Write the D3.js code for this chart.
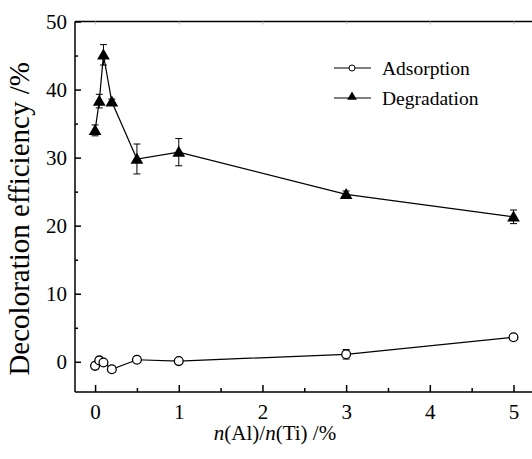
<!DOCTYPE html>
<html>
<head>
<meta charset="utf-8">
<script src="https://cdn.jsdelivr.net/npm/d3@7"></script>
<style>
  body { margin: 0; background: #fff; }
  .tick text { font-family: 'Times New Roman', 'Liberation Serif', serif; font-size: 21px; }
</style>
</head>
<body>
<div id="chart"></div>
<script>
// data
var ratio = [0, 0.05, 0.1, 0.2, 0.5, 1, 3, 5];
var adsorption = [-0.6, 0.2, -0.1, -1.1, 0.3, 0.1, 1.1, 3.6];
var adsorptionErr = [0.4, 0.4, 0.4, 0.4, 0.4, 0.3, 0.7, 0.4];
var degradation = [34.0, 38.3, 45.1, 38.2, 29.8, 30.8, 24.6, 21.3];
var degradationErr = [0.8, 1.0, 1.5, 0.4, 2.2, 2.0, 0.5, 1.0];
var xTicks = [0, 1, 2, 3, 4, 5];
var yTicks = [0, 10, 20, 30, 40, 50];
var seriesNames = ["Adsorption", "Degradation"];

var serif = "'Times New Roman', 'Liberation Serif', 'DejaVu Serif', serif";

var W = 532, H = 459;
var margin = { top: 21.5, right: -2, bottom: 67, left: 75 };
var width = W - margin.left - margin.right,
    height = H - margin.top - margin.bottom;

var svg = d3.select("#chart")
    .append("svg")
    .attr("width", W)
    .attr("height", H)
    .attr("font-family", serif);
var g = svg.append("g")
    .attr("transform", "translate(" + margin.left + "," + margin.top + ")");

var x = d3.scaleLinear().domain([-0.24, 5.245]).range([0, width]);
var y = d3.scaleLinear().domain([-4.44, 50]).range([height, 0]);

// frame
g.append("line").attr("x1", 0).attr("x2", width).attr("y1", 0).attr("y2", 0)
    .attr("stroke", "#000").attr("stroke-width", 1.5);
g.append("line").attr("x1", 0).attr("x2", width).attr("y1", height).attr("y2", height)
    .attr("stroke", "#000").attr("stroke-width", 1.5);
g.append("line").attr("x1", 0).attr("x2", 0).attr("y1", 0).attr("y2", height)
    .attr("stroke", "#000").attr("stroke-width", 1.5);

// x axis (ticks pointing in)
var xAxis = g.append("g")
    .attr("transform", "translate(0," + height + ")")
    .call(d3.axisBottom(x).tickValues(xTicks).tickSize(-7).tickPadding(12).tickFormat(d3.format("d")));
xAxis.attr("font-family", null).attr("font-size", null);
xAxis.select(".domain").remove();
xAxis.selectAll("line").attr("stroke-width", 1.5);
g.append("g")
    .attr("transform", "translate(0," + height + ")")
    .call(d3.axisBottom(x).tickValues([0.5, 1.5, 2.5, 3.5, 4.5]).tickSize(-4).tickFormat(""))
    .call(function (s) { s.select(".domain").remove(); s.selectAll("line").attr("stroke-width", 1.5); });
// top mirror ticks (faint)
g.append("g")
    .call(d3.axisTop(x).tickValues(xTicks).tickSize(-3).tickFormat(""))
    .call(function (s) { s.select(".domain").remove(); s.selectAll("line").attr("stroke", "#bbb"); });

// y axis (ticks pointing in)
var yAxis = g.append("g")
    .call(d3.axisLeft(y).tickValues(yTicks).tickSize(-6).tickPadding(8));
yAxis.attr("font-family", null).attr("font-size", null);
yAxis.select(".domain").remove();
yAxis.selectAll("line").attr("stroke-width", 1.5);
g.append("g")
    .call(d3.axisLeft(y).tickValues([5, 15, 25, 35, 45]).tickSize(-3).tickFormat(""))
    .call(function (s) { s.select(".domain").remove(); s.selectAll("line").attr("stroke-width", 1.5); });

// axis titles
svg.append("text")
    .attr("transform", "translate(29," + (margin.top + y(21)) + ") rotate(-90)")
    .attr("text-anchor", "middle")
    .attr("font-size", 29)
    .text("Decoloration efficiency /%");

var xt = svg.append("text")
    .attr("x", margin.left + x(2.15))
    .attr("y", 440)
    .attr("text-anchor", "middle")
    .attr("font-size", 21);
xt.append("tspan").style("font-style", "italic").text("n");
xt.append("tspan").text("(Al)/");
xt.append("tspan").style("font-style", "italic").text("n");
xt.append("tspan").text("(Ti) /%");

var line = d3.line()
    .x(function (d, i) { return x(ratio[i]); })
    .y(function (d) { return y(d); });

function errorBars(vals, errs) {
    var eb = g.append("g").attr("stroke", "#000").attr("stroke-width", 1);
    vals.forEach(function (v, i) {
        var cx = x(ratio[i]);
        eb.append("line").attr("x1", cx).attr("x2", cx)
            .attr("y1", y(v - errs[i])).attr("y2", y(v + errs[i]));
        eb.append("line").attr("x1", cx - 3.5).attr("x2", cx + 3.5)
            .attr("y1", y(v - errs[i])).attr("y2", y(v - errs[i]));
        eb.append("line").attr("x1", cx - 3.5).attr("x2", cx + 3.5)
            .attr("y1", y(v + errs[i])).attr("y2", y(v + errs[i]));
    });
}

// Adsorption series
errorBars(adsorption, adsorptionErr);
g.append("path").datum(adsorption)
    .attr("fill", "none").attr("stroke", "#000").attr("stroke-width", 1.2)
    .attr("d", line);
g.selectAll(".ads").data(adsorption).enter().append("circle")
    .attr("cx", function (d, i) { return x(ratio[i]); })
    .attr("cy", function (d) { return y(d); })
    .attr("r", 4.4)
    .attr("fill", "#fff").attr("stroke", "#000").attr("stroke-width", 1.3);

// Degradation series
errorBars(degradation, degradationErr);
g.append("path").datum(degradation)
    .attr("fill", "none").attr("stroke", "#000").attr("stroke-width", 1.2)
    .attr("d", line);
var tri = d3.symbol().type(d3.symbolTriangle).size(70);
g.selectAll(".deg").data(degradation).enter().append("path")
    .attr("transform", function (d, i) { return "translate(" + x(ratio[i]) + "," + (y(d) + 1) + ")"; })
    .attr("d", tri)
    .attr("fill", "#000");

// legend
var legend = svg.append("g");
seriesNames.forEach(function (name, i) {
    var ly = 68 + i * 30;
    legend.append("line").attr("x1", 334).attr("x2", 371).attr("y1", ly).attr("y2", ly)
        .attr("stroke", "#000").attr("stroke-width", 1.2);
    if (i === 0) {
        legend.append("circle").attr("cx", 352).attr("cy", ly).attr("r", 3)
            .attr("fill", "#fff").attr("stroke", "#000").attr("stroke-width", 1);
    } else {
        legend.append("path").attr("transform", "translate(352," + (ly - 1) + ")")
            .attr("d", d3.symbol().type(d3.symbolTriangle).size(40)).attr("fill", "#000");
    }
    legend.append("text").attr("x", 382).attr("y", ly + 7)
        .attr("font-size", 19.5).text(name);
});
</script>
</body>
</html>
